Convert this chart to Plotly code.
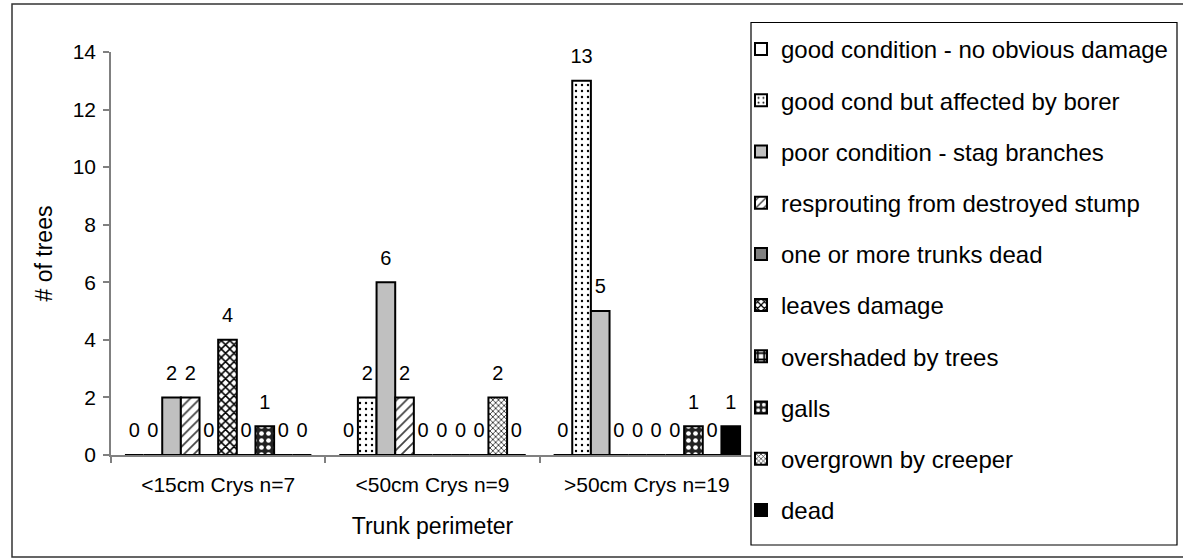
import plotly.graph_objects as go

categories = ["<15cm Crys n=7", "<50cm Crys n=9", ">50cm Crys n=19"]
series_names = [
    "good condition - no obvious damage",
    "good cond but affected by borer",
    "poor condition - stag branches",
    "resprouting from destroyed stump",
    "one or more trunks dead",
    "leaves damage",
    "overshaded by trees",
    "galls",
    "overgrown by creeper",
    "dead",
]
good_condition = [0, 0, 0]
borer = [0, 2, 13]
poor_condition = [2, 6, 5]
resprouting = [2, 2, 0]
trunks_dead = [0, 0, 0]
leaves_damage = [4, 0, 0]
overshaded = [0, 0, 0]
galls = [1, 0, 1]
creeper = [0, 2, 0]
dead = [0, 0, 1]
series_values = [good_condition, borer, poor_condition, resprouting, trunks_dead,
                 leaves_damage, overshaded, galls, creeper, dead]
y_ticks = [0, 2, 4, 6, 8, 10, 12, 14]

# styles: (fill colour, pattern shape, pattern fg colour, size, solidity)
styles = [
    ("#FFFFFF", "", None, None, None),
    ("#FFFFFF", ".", "#000000", 6, 0.12),
    ("#C0C0C0", "", None, None, None),
    ("#FFFFFF", "/", "#444444", 7, 0.25),
    ("#808080", "", None, None, None),
    ("#FFFFFF", "x", "#000000", 6, 0.45),
    ("#FFFFFF", "+", "#000000", 8, 0.5),
    ("#222222", ".", "#FFFFFF", 7, 0.35),
    ("#FFFFFF", "x", "#333333", 4, 0.4),
    ("#000000", "", None, None, None),
]

FONT = "Liberation Sans, Arial, sans-serif"
fig = go.Figure()

for i, (name, vals) in enumerate(zip(series_names, series_values)):
    col, shp, fg, sz, sol = styles[i]
    marker = dict(color=col, line=dict(color="#000000", width=2))
    if shp:
        marker["pattern"] = dict(shape=shp, fgcolor=fg, bgcolor=col, size=sz,
                                 solidity=sol, fillmode="replace")
    fig.add_trace(go.Bar(
        name=name, x=categories, y=vals, marker=marker,
        legendgroup=f"g{i}", hoverinfo="x+y+name",
    ))

# value labels (same grouping on an overlaid axis, lifted slightly)
for i, (name, vals) in enumerate(zip(series_names, series_values)):
    fig.add_trace(go.Bar(
        name=name, x=categories, y=vals, yaxis="y2",
        marker=dict(color="rgba(0,0,0,0)", line=dict(width=0)),
        text=[str(v) for v in vals], textposition="outside",
        textfont=dict(family=FONT, size=20, color="#000000"),
        constraintext="none", cliponaxis=False,
        showlegend=False, hoverinfo="skip",
    ))

L, R, T, B = 111, 754, 52, 455
W, H = 1183, 558
pw, ph = R - L, B - T


def px_x(v):
    return (v - L) / pw


def px_y(v):
    return (B - v) / ph


fig.update_layout(
    width=W, height=H,
    margin=dict(l=L, r=W - R, t=T, b=H - B, autoexpand=False),
    paper_bgcolor="#FFFFFF", plot_bgcolor="#FFFFFF",
    barmode="group", bargap=0.13, bargroupgap=0,
    font=dict(family=FONT, size=21, color="#000000"),
    showlegend=True,
    legend=dict(
        xref="container", yref="container",
        x=741 / W, y=1 - 27 / H, xanchor="left", yanchor="top",
        bgcolor="rgba(0,0,0,0)", borderwidth=0,
        font=dict(family=FONT, size=24, color="#000000"),
        traceorder="grouped", tracegroupgap=17, maxheight=540,
        itemclick=False, itemdoubleclick=False,
    ),
    xaxis=dict(
        type="category", showgrid=False, zeroline=False,
        showline=True, linecolor="#808080", linewidth=1.5,
        ticks="outside", ticklen=6, tickcolor="#808080", tickwidth=1.5,
        tickson="boundaries", ticklabelstandoff=10,
        tickfont=dict(family=FONT, size=21),
        title=dict(text="Trunk perimeter", font=dict(family=FONT, size=23), standoff=23),
    ),
    yaxis=dict(
        range=[0, 14], tickvals=y_ticks, showgrid=False, zeroline=False,
        showline=True, linecolor="#808080", linewidth=1.5,
        ticks="outside", ticklen=6, tickcolor="#808080", tickwidth=1.5,
        ticklabelstandoff=3,
        tickfont=dict(family=FONT, size=21),
        title=dict(text="# of trees", font=dict(family=FONT, size=23), standoff=14),
    ),
    yaxis2=dict(
        overlaying="y", range=[-0.37, 13.63], visible=False, fixedrange=True,
    ),
    shapes=[
        dict(type="rect", xref="paper", yref="paper",
             x0=px_x(12), x1=px_x(1195), y0=px_y(557), y1=px_y(4),
             line=dict(color="#333333", width=1.5), fillcolor="rgba(0,0,0,0)",
             layer="below"),
        dict(type="rect", xref="paper", yref="paper",
             x0=px_x(751), x1=px_x(1177), y0=px_y(545), y1=px_y(22.5),
             line=dict(color="#000000", width=1.2), fillcolor="#FFFFFF",
             layer="above"),
    ],
)

fig.write_html("out.html", config={"displayModeBar": False},
               post_script="document.body.style.margin='0';document.body.style.padding='0';")
